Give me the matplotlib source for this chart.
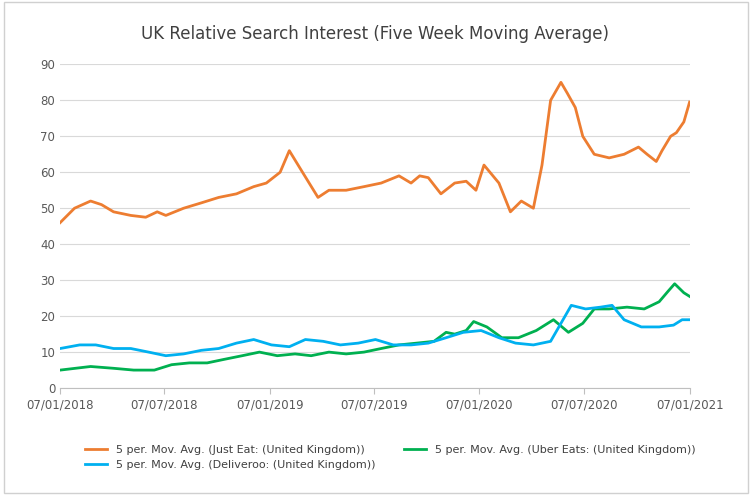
import pandas as pd
import matplotlib.pyplot as plt
import matplotlib.dates as mdates

# Just Eat
je_dates = ['2018-01-07', '2018-02-01', '2018-03-01', '2018-03-20', '2018-04-10', '2018-05-10',
            '2018-06-05', '2018-06-25', '2018-07-10', '2018-08-10', '2018-09-10', '2018-10-10',
            '2018-11-10', '2018-12-10', '2019-01-01', '2019-01-25', '2019-02-10', '2019-03-05',
            '2019-04-01', '2019-04-20', '2019-05-20', '2019-06-20', '2019-07-20', '2019-08-20',
            '2019-09-10', '2019-09-25', '2019-10-10', '2019-11-01', '2019-11-25', '2019-12-15',
            '2020-01-01', '2020-01-15', '2020-02-10', '2020-03-01', '2020-03-20', '2020-04-10',
            '2020-04-25', '2020-05-10', '2020-05-28', '2020-06-08', '2020-06-22', '2020-07-05',
            '2020-07-25', '2020-08-20', '2020-09-15', '2020-10-10', '2020-10-25', '2020-11-10',
            '2020-11-20', '2020-12-05', '2020-12-15', '2020-12-28', '2021-01-07']
je_vals = [46, 50, 52, 51, 49, 48, 47.5, 49, 48, 50, 51.5, 53, 54, 56, 57, 60, 66, 60,
           53, 55, 55, 56, 57, 59, 57, 59, 58.5, 54, 57, 57.5, 55, 62, 57, 49, 52, 50,
           62, 80, 85, 82, 78, 70, 65, 64, 65, 67, 65, 63, 66, 70, 71, 74, 79.5]

# Uber Eats
ue_dates = ['2018-01-07', '2018-03-01', '2018-04-10', '2018-05-15', '2018-06-20', '2018-07-20',
            '2018-08-20', '2018-09-20', '2018-10-20', '2018-11-20', '2018-12-20', '2019-01-20',
            '2019-02-20', '2019-03-20', '2019-04-20', '2019-05-20', '2019-06-20', '2019-07-20',
            '2019-08-20', '2019-09-20', '2019-10-20', '2019-11-10', '2019-11-25', '2019-12-15',
            '2019-12-28', '2020-01-20', '2020-02-15', '2020-03-15', '2020-04-15', '2020-05-15',
            '2020-06-10', '2020-07-05', '2020-07-25', '2020-08-20', '2020-09-20', '2020-10-20',
            '2020-11-15', '2020-12-01', '2020-12-12', '2020-12-28', '2021-01-07']
ue_vals = [5, 6, 5.5, 5, 5, 6.5, 7, 7, 8, 9, 10, 9, 9.5, 9, 10, 9.5, 10, 11, 12, 12.5,
           13, 15.5, 15, 16, 18.5, 17, 14, 14, 16, 19, 15.5, 18, 22, 22, 22.5, 22, 24,
           27, 29, 26.5, 25.5]

# Deliveroo
dl_dates = ['2018-01-07', '2018-02-10', '2018-03-10', '2018-04-10', '2018-05-10', '2018-06-10',
            '2018-07-10', '2018-08-10', '2018-09-10', '2018-10-10', '2018-11-10', '2018-12-10',
            '2019-01-10', '2019-02-10', '2019-03-10', '2019-04-10', '2019-05-10', '2019-06-10',
            '2019-07-10', '2019-08-10', '2019-09-10', '2019-10-10', '2019-11-10', '2019-12-10',
            '2020-01-10', '2020-02-10', '2020-03-10', '2020-04-10', '2020-05-10', '2020-05-28',
            '2020-06-15', '2020-07-10', '2020-08-05', '2020-08-25', '2020-09-15', '2020-10-15',
            '2020-11-15', '2020-12-10', '2020-12-25', '2021-01-07']
dl_vals = [11, 12, 12, 11, 11, 10, 9, 9.5, 10.5, 11, 12.5, 13.5, 12, 11.5, 13.5, 13, 12,
           12.5, 13.5, 12, 12, 12.5, 14, 15.5, 16, 14, 12.5, 12, 13, 18, 23, 22, 22.5,
           23, 19, 17, 17, 17.5, 19, 19]

fig, ax = plt.subplots(figsize=(7.52, 4.95), dpi=100)
fig.subplots_adjust(left=0.08, right=0.917, top=0.87, bottom=0.216)

l_je, = ax.plot(pd.to_datetime(je_dates), je_vals, color='#ED7D31', lw=2,
                label='5 per. Mov. Avg. (Just Eat: (United Kingdom))')
l_ue, = ax.plot(pd.to_datetime(ue_dates), ue_vals, color='#00B050', lw=2,
                label='5 per. Mov. Avg. (Uber Eats: (United Kingdom))')
l_dl, = ax.plot(pd.to_datetime(dl_dates), dl_vals, color='#00B0F0', lw=2,
                label='5 per. Mov. Avg. (Deliveroo: (United Kingdom))')

ax.set_ylim(0, 90)
ax.set_yticks(range(0, 91, 10))
ax.set_xlim(pd.Timestamp('2018-01-07'), pd.Timestamp('2021-01-07'))
ticks = pd.to_datetime(['2018-01-07', '2018-07-07', '2019-01-07', '2019-07-07',
                        '2020-01-07', '2020-07-07', '2021-01-07'])
ax.set_xticks(ticks)
ax.xaxis.set_major_formatter(mdates.DateFormatter('%d/%m/%Y'))
ax.grid(axis='y', color='#d9d9d9', lw=0.8)
ax.set_axisbelow(True)
for s in ['top', 'right', 'left']:
    ax.spines[s].set_visible(False)
ax.spines['bottom'].set_color('#bfbfbf')
ax.tick_params(axis='both', colors='#595959', labelsize=8.5, length=0)
ax.tick_params(axis='x', length=4, color='#bfbfbf')

ax.set_title('UK Relative Search Interest (Five Week Moving Average)', fontsize=12,
             color='#404040', pad=18)
fig.legend(handles=[l_je, l_dl, l_ue], loc='lower left', bbox_to_anchor=(0.1, 0.03),
           ncol=2, frameon=False, fontsize=8, labelcolor='#404040', columnspacing=2.5)

fig.patches.append(plt.Rectangle((0.005, 0.005), 0.99, 0.99, transform=fig.transFigure,
                                 fill=False, edgecolor='#d0d0d0', lw=1))
fig.savefig('out.png')
